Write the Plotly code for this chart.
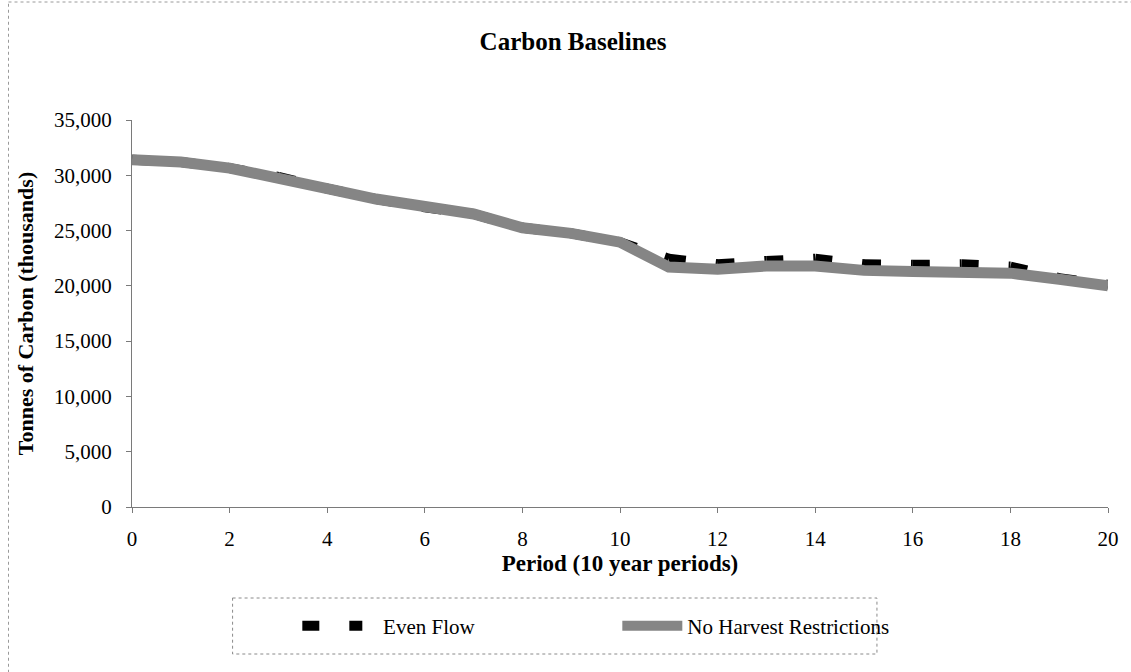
import plotly.graph_objects as go

periods = list(range(0, 21))
no_harvest = [31400, 31200, 30650, 29850, 28800, 27850, 27100, 26500, 25250, 24750, 23950,
              21700, 21500, 21800, 21800, 21400, 21300, 21250, 21150, 20600, 20000]
even_flow = [31400, 31200, 30650, 29850, 28800, 27850, 27100, 26500, 25250, 24750, 23950,
             22450, 21950, 22250, 22450, 21950, 21900, 21950, 21750, 20700, 20100]
y_ticks = [0, 5000, 10000, 15000, 20000, 25000, 30000, 35000]
x_ticks = list(range(0, 21, 2))

# split the Even Flow series into point-to-point segments so the dash restarts at each point
ef_x, ef_y = [], []
for i in range(len(periods) - 1):
    ef_x += [periods[i], periods[i + 1], None]
    ef_y += [even_flow[i], even_flow[i + 1], None]

FONT = "Liberation Serif, DejaVu Serif, serif"
NB = "\u00a0"

fig = go.Figure()
fig.add_trace(go.Scatter(
    x=ef_x, y=ef_y, mode="lines", name=NB * 3 + "Even Flow",
    line=dict(color="#000000", width=10, dash="17px,30px"),
    connectgaps=False,
))
fig.add_trace(go.Scatter(
    x=periods, y=no_harvest, mode="lines", name="No Harvest Restrictions",
    line=dict(color="#858585", width=11),
))

fig.update_layout(
    width=1131, height=672,
    margin=dict(l=132, r=19, t=120, b=165),
    paper_bgcolor="white", plot_bgcolor="white",
    font=dict(family=FONT, size=21, color="black"),
    title=dict(text="<b>Carbon Baselines</b>", x=573 / 1131, xanchor="center",
               y=1 - 41 / 672, yanchor="middle", yref="container",
               font=dict(family=FONT, size=25, color="black")),
    showlegend=True,
    legend=dict(orientation="h", x=(298 - 132) / 980, xanchor="left",
                y=(507 - 626) / 387, yanchor="middle",
                bgcolor="rgba(0,0,0,0)", borderwidth=0,
                itemwidth=60, entrywidth=245, entrywidthmode="pixels",
                font=dict(family=FONT, size=21, color="black")),
    xaxis=dict(range=[0, 20], tickvals=x_ticks, showgrid=False, zeroline=False,
               showline=True, linecolor="#7a7a7a", linewidth=1,
               ticks="outside", ticklen=5, tickcolor="#7a7a7a",
               ticklabelstandoff=8,
               title=dict(text="<b>Period (10 year periods)</b>", standoff=4,
                          font=dict(family=FONT, size=23))),
    yaxis=dict(range=[0, 35000], tickvals=y_ticks, tickformat=",", showgrid=False,
               zeroline=False, showline=True, linecolor="#7a7a7a", linewidth=1,
               ticks="outside", ticklen=5, tickcolor="#7a7a7a",
               ticklabelstandoff=10,
               title=dict(text="<b>Tonnes of Carbon (thousands)</b>", standoff=14,
                          font=dict(family=FONT, size=22))),
    shapes=[
        dict(type="rect", xref="paper", yref="paper",
             x0=(233 - 132) / 980, x1=(880 - 132) / 980,
             y0=(507 - 598) / 387, y1=(507 - 654) / 387,
             line=dict(color="#8a8a8a", width=1, dash="dot"), fillcolor="rgba(0,0,0,0)"),
        dict(type="rect", xref="paper", yref="paper",
             x0=(8 - 132) / 980, x1=(1140 - 132) / 980,
             y0=(507 - 2) / 387, y1=(507 - 680) / 387,
             line=dict(color="#9a9a9a", width=1, dash="dot"), fillcolor="rgba(0,0,0,0)"),
    ],
)

fig.write_html("out.html")
